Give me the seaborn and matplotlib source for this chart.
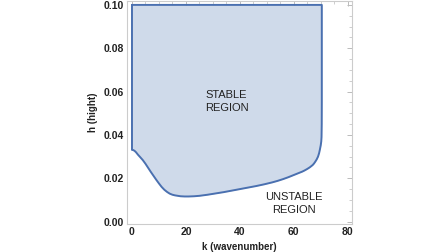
import numpy as np
import pandas as pd
import seaborn as sns
import matplotlib
matplotlib.use("Agg")
import matplotlib.pyplot as plt
from matplotlib.ticker import MultipleLocator, FormatStrFormatter

# Boundary (lower curve) of the stable region
k_vals = [0, 0.5, 1, 1.5, 2.2, 3, 4, 5, 6, 7, 8, 9, 10, 11, 12, 13, 14, 15,
          16, 17, 18, 19.5, 21, 23, 25, 28, 31, 34, 37, 40, 43, 46, 49, 52,
          54, 56, 58, 60, 62, 63.2, 64, 65, 66, 67, 67.5, 68, 68.5, 69, 69.4,
          69.7, 70, 70.2, 70.3, 70.37, 70.4, 70.4]
h_vals = [0.0331, 0.0330, 0.0326, 0.0320, 0.0309, 0.0298, 0.0284, 0.0267,
          0.0248, 0.0229, 0.0211, 0.0193, 0.0176, 0.0160, 0.0147, 0.0137,
          0.0129, 0.0124, 0.0121, 0.0119, 0.0117, 0.0116, 0.0116, 0.0117,
          0.0119, 0.0124, 0.0130, 0.0136, 0.0143, 0.0150, 0.0157, 0.0164,
          0.0172, 0.0181, 0.0188, 0.0196, 0.0205, 0.0215, 0.0225, 0.0231,
          0.0236, 0.0243, 0.0251, 0.0261, 0.0268, 0.0277, 0.0287, 0.0300,
          0.0316, 0.0333, 0.0352, 0.0370, 0.0390, 0.0450, 0.0550, 0.1000]
h_top = 0.10

x_ticks = [0, 20, 40, 60, 80]
y_ticks = [0.00, 0.02, 0.04, 0.06, 0.08, 0.10]

sns.set_style("white")
plt.rcParams['font.family'] = ['Liberation Sans', 'DejaVu Sans']

fig = plt.figure(figsize=(4.48, 2.52), dpi=100)
ax = fig.add_axes([127 / 448, 28 / 252, 225 / 448, 223 / 252])

line_col = "#4a70b0"
fill_col = "#cfdaea"

ax.fill_between(k_vals, h_vals, h_top, color=fill_col, linewidth=0)

outline = pd.DataFrame({
    "k": [k_vals[0]] + k_vals + [k_vals[0]],
    "h": [h_top] + h_vals + [h_top],
})
sns.lineplot(data=outline, x="k", y="h", sort=False, estimator=None,
             color=line_col, linewidth=1.4, ax=ax)

ax.set_xlim(-1.85, 81.6)
ax.set_ylim(-0.0011, 0.1018)
ax.set_xticks(x_ticks)
ax.set_yticks(y_ticks)
ax.yaxis.set_major_formatter(FormatStrFormatter("%.2f"))
ax.xaxis.set_minor_locator(MultipleLocator(5))
ax.yaxis.set_minor_locator(MultipleLocator(0.005))

for s in ax.spines.values():
    s.set_color("#cccccc")
    s.set_linewidth(0.8)

ax.tick_params(which="both", direction="in", color="#bbbbbb",
               top=True, right=True, labeltop=False, labelright=False)
ax.tick_params(which="major", length=3.5, width=0.7, labelsize=7.5, pad=2)
ax.tick_params(which="minor", length=2, width=0.5)
for lab in ax.get_xticklabels() + ax.get_yticklabels():
    lab.set_fontweight("bold")
    lab.set_color("#222222")

ax.set_xlabel("k (wavenumber)", fontsize=7, fontweight="bold", labelpad=4,
              color="#222222")
ax.set_ylabel("h (hight)", fontsize=7, fontweight="bold", labelpad=4,
              color="#222222")

ax.text(35.1, 0.0554, "STABLE\nREGION", ha="center", va="center",
        fontsize=8, color="#222222", linespacing=1.4)
ax.text(60.1, 0.0085, "UNSTABLE\nREGION", ha="center", va="center",
        fontsize=8, color="#222222", linespacing=1.4)

fig.savefig("out.png", dpi=100)
